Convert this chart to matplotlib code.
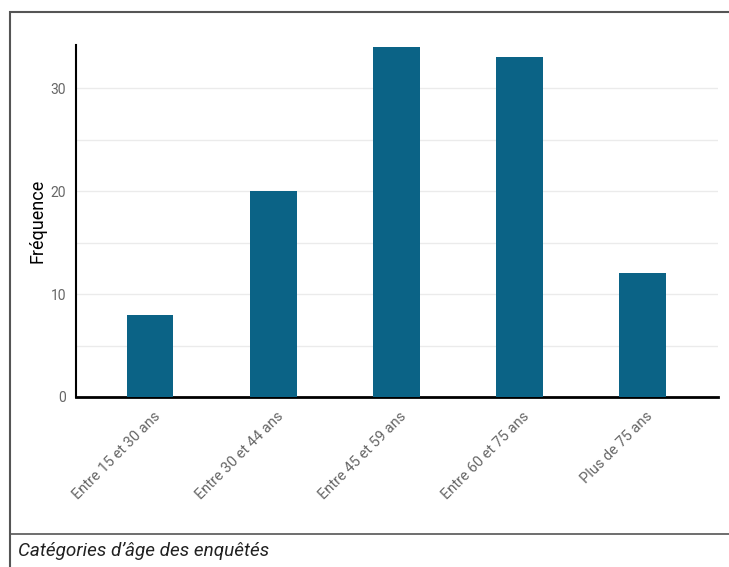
import matplotlib
matplotlib.use("Agg")
import matplotlib.pyplot as plt
import matplotlib.transforms as mtransforms
from matplotlib.patches import Rectangle
from matplotlib.lines import Line2D
import numpy as np

plt.rcParams['font.family'] = ['Roboto', 'DejaVu Sans']

# data
categories = ["Entre 15 et 30 ans", "Entre 30 et 44 ans", "Entre 45 et 59 ans",
              "Entre 60 et 75 ans", "Plus de 75 ans"]
frequencies = [8, 20, 34, 33, 12]
y_ticks = [0, 10, 20, 30]
grid_levels = [5, 10, 15, 20, 25, 30]

bar_color = "#0b6386"

fig = plt.figure(figsize=(7.29, 5.67), dpi=100)
ax = fig.add_axes([76 / 729, 1 - 397 / 567, (718 - 76) / 729, (397 - 45) / 567])

x = np.arange(len(categories))
ax.bar(x, frequencies, width=0.38, color=bar_color, zorder=3)

# light horizontal grid
for g in grid_levels:
    ax.axhline(g, color="#ebebeb", lw=1, zorder=1)

ax.set_xlim(-0.6, 4.61)
ax.set_ylim(0, 34.2)

ax.set_yticks(y_ticks)
ax.set_yticklabels([str(v) for v in y_ticks], color="#666666", fontsize=10)
ax.tick_params(axis="y", length=0, pad=7)

ax.set_xticks(x)
ax.set_xticklabels(categories, rotation=45, ha="right", rotation_mode="anchor",
                   color="#666666", fontsize=10.5)
ax.tick_params(axis="x", length=0, pad=9)
offset = mtransforms.ScaledTranslation(0.03, 0, fig.dpi_scale_trans)
for lab in ax.get_xticklabels():
    lab.set_transform(lab.get_transform() + offset)

for s in ["top", "right"]:
    ax.spines[s].set_visible(False)
ax.spines["left"].set_linewidth(1.5)
ax.spines["bottom"].set_linewidth(2)
ax.spines["left"].set_color("black")
ax.spines["bottom"].set_color("black")

ax.set_ylabel("Fréquence", fontsize=13, color="black")
ax.yaxis.set_label_coords(-29 / 642, 0.5)

# outer frame and caption box
fig.add_artist(Rectangle((10 / 729, -0.01), 1.0, 1 - 12 / 567 + 0.01,
                         transform=fig.transFigure, fill=False,
                         edgecolor="#555555", lw=1.5))
fig.add_artist(Line2D([10 / 729, 1.0], [1 - 534 / 567] * 2,
                      transform=fig.transFigure, color="#555555", lw=1.2))
fig.text(18 / 729, 1 - 551 / 567, "Catégories d’âge des enquêtés",
         style="italic", fontsize=13.6, va="center", ha="left", color="#222222")

fig.savefig("out.png", dpi=100, facecolor="white")
